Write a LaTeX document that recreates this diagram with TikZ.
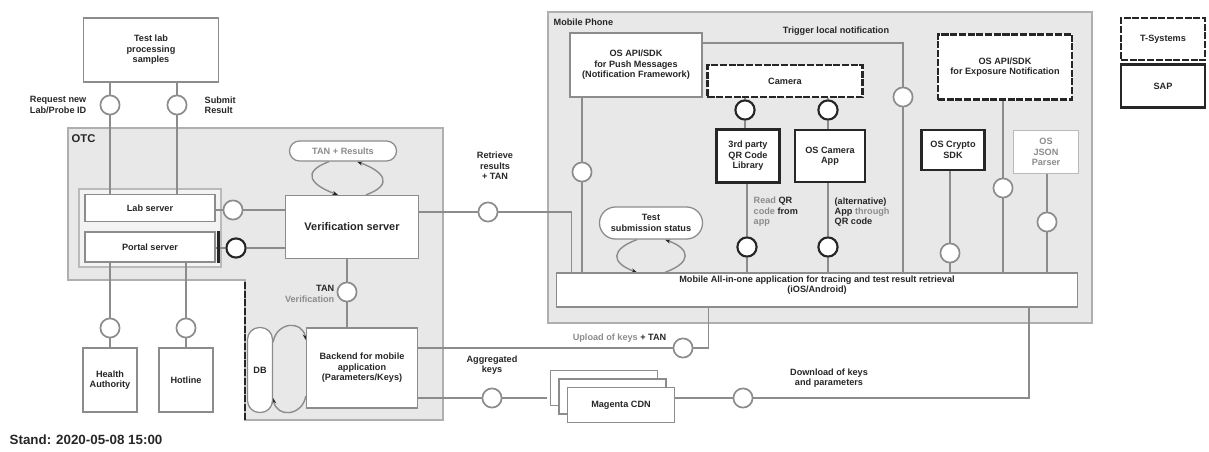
\documentclass[tikz,border=0pt]{standalone}
\usepackage{fontspec}
\setmainfont{Liberation Sans}
\usetikzlibrary{arrows.meta,shadows}
\pgfdeclarelayer{bg}
\pgfdeclarelayer{ln}
\pgfsetlayers{bg,ln,main}
\definecolor{frame}{HTML}{8C8C8C}
\definecolor{panel}{HTML}{E8E8E8}
\definecolor{ink}{HTML}{262626}
\newcommand{\smallbf}{\fontsize{6.5}{7.4}\selectfont\bfseries}

\begin{document}
\begin{tikzpicture}[x=0.025cm,y=-0.025cm,
 every node/.style={font=\smallbf,text=ink},
 box/.style={draw=frame,fill=white,line width=0.9pt,align=center,inner sep=1pt},
 tsys/.style={box,draw=ink,line width=1.5pt,dash pattern=on 5pt off 1.2pt},
 sap/.style={box,draw=ink,line width=1.5pt},
 iface/.style={circle,draw=frame,fill=white,line width=1.2pt,minimum size=0.48cm,inner sep=0pt},
 sapif/.style={iface,draw=ink,line width=1.5pt},
 conn/.style={draw=frame,line width=0.9pt},
 loopln/.style={draw=frame,line width=1pt,-{Stealth[length=4pt,width=3pt,color=ink]}},
 lbl/.style={align=center,inner sep=1pt}]
 \useasboundingbox (0,0) rectangle (1209,452);
 \begin{pgfonlayer}{bg}
  \filldraw[fill=panel,draw=frame!70,line width=1.2pt] (68,128) -- (443,128) -- (443,420) -- (245,420) -- (245,280) -- (68,280) -- cycle;
  \filldraw[fill=panel!50,draw=frame!60,line width=0.8pt] (79,189) rectangle (221,267);
  \filldraw[fill=panel,draw=frame!70,line width=1.2pt] (548,12) rectangle (1092,323);
  \draw[ink,line width=1.5pt,dash pattern=on 5pt off 1.2pt] (245,282) -- (245,420);
 \end{pgfonlayer}
 % OTC
 \node[lbl,anchor=west,font=\fontsize{8}{9}\selectfont\bfseries] (otc) at (70,139) {OTC};
 \node[box,minimum width=3.375cm,minimum height=1.6cm] (lab) at (151,50) {Test lab\\processing\\samples};
 \node[box,minimum width=3.25cm,minimum height=0.675cm] (labsrv) at (150,208) {Lab server};
 \node[box,minimum width=3.25cm,minimum height=0.75cm] (portal) at (150,247) {Portal server};
 \node[box,minimum width=3.325cm,minimum height=1.575cm,font=\fontsize{7.8}{9}\selectfont\bfseries] (verif) at (352,227) {Verification server};
 \node[box,minimum width=2.675cm,minimum height=0.5cm,rounded corners=0.25cm] (tanres) at (343,151) {\color{frame}TAN + Results};
 \node[box,minimum width=1.35cm,minimum height=1.6cm] (health) at (110,380) {Health\\Authority};
 \node[box,minimum width=1.35cm,minimum height=1.6cm] (hotline) at (186,380) {Hotline};
 \node[box,minimum width=2.775cm,minimum height=2cm] (backend) at (362,368) {Backend for mobile\\application\\(Parameters/Keys)};
 \node[box,minimum width=0.625cm,minimum height=2.125cm,rounded corners=0.3cm] (db) at (260,370) {DB};
 \node[box,minimum width=2.675cm,minimum height=0.875cm,double copy shadow={shadow xshift=-6pt,shadow yshift=6pt,draw=frame,line width=0.9pt}] (cdn) at (621,405) {Magenta CDN};
 \node[iface] (c1) at (110,105) {};
 \node[iface] (c2) at (177,105) {};
 \node[iface] (c3) at (233,210) {};
 \node[sapif] (c4) at (236,248) {};
 \node[iface] (c5) at (110,328) {};
 \node[iface] (c6) at (186,328) {};
 \node[iface] (c7) at (347,292) {};
 \node[iface] (c8) at (488,212) {};
 \node[iface] (c9) at (683,348) {};
 \node[iface] (c10) at (492,398) {};
 \node[iface] (c11) at (743,398) {};
 \node[lbl,anchor=east,align=right] (reqlbl) at (88,105) {Request new\\Lab/Probe ID};
 \node[lbl,anchor=west,align=left] (sublbl) at (203,105) {Submit\\Result};
 \node[lbl] (retlbl) at (495,166) {Retrieve\\results\\+ TAN};
 \node[lbl,anchor=east,align=right] (tanlbl) at (336,294) {TAN\\{\color{frame}Verification}};
 \node[lbl] (agglbl) at (492,365) {Aggregated\\keys};
 \node[lbl,anchor=east] (uplbl) at (668,338) {{\color{frame}Upload of keys} + TAN};
 \node[lbl] (downlbl) at (829,378) {Download of keys\\and parameters};
 % mobile phone
 \node[lbl,anchor=west] (phone) at (552,22) {Mobile Phone};
 \node[lbl] (trig) at (836,31) {Trigger local notification};
 \node[box,minimum width=13.025cm,minimum height=0.85cm,text depth=0.3cm] (app) at (817,290) {Mobile All-in-one application for tracing and test result retrieval\\(iOS/Android)};
 \node[box,minimum width=3.3cm,minimum height=1.6cm] (push) at (636,65) {OS API/SDK\\for Push Messages\\(Notification Framework)};
 \node[tsys,minimum width=3.875cm,minimum height=0.8cm] (camera) at (785,81) {Camera};
 \node[sap,minimum width=1.575cm,minimum height=1.325cm] (qr) at (748,156) {3rd party\\QR Code\\Library};
 \node[sap,minimum width=1.75cm,minimum height=1.3cm] (camapp) at (830,156) {OS Camera\\App};
 \node[sap,minimum width=1.575cm,minimum height=1cm] (crypto) at (953,150) {OS Crypto\\SDK};
 \node[tsys,minimum width=3.35cm,minimum height=1.625cm] (expo) at (1005,67) {OS API/SDK\\for Exposure Notification};
 \node[box,draw=frame!60,minimum width=1.625cm,minimum height=1.075cm] (json) at (1046,152) {\color{frame}OS\\\color{frame}JSON\\\color{frame}Parser};
 \node[box,minimum width=2.575cm,minimum height=0.8cm,rounded corners=0.4cm] (status) at (651,223) {Test\\submission status};
 \node[iface] (c12) at (582,172) {};
 \node[sapif] (c13) at (745,110) {};
 \node[sapif] (c14) at (828,110) {};
 \node[sapif] (c15) at (747,247) {};
 \node[sapif] (c16) at (828,247) {};
 \node[iface] (c17) at (903,97) {};
 \node[iface] (c18) at (950,253) {};
 \node[iface] (c19) at (1003,188) {};
 \node[iface] (c20) at (1047,222) {};
 \node[lbl,anchor=west,align=left] (qrlbl) at (752,212) {{\color{frame}Read} QR\\{\color{frame}code} from\\{\color{frame}app}};
 \node[lbl,anchor=west,align=left] (camlbl) at (833,212) {(alternative)\\App {\color{frame}through}\\QR code};
 % legend
 \node[tsys,minimum width=2.1cm,minimum height=1.05cm] (tsysleg) at (1163,39) {T-Systems};
 \node[sap,minimum width=2.1cm,minimum height=1.075cm] (sapleg) at (1163,86) {SAP};
 \node[lbl,anchor=west,font=\fontsize{9.5}{10}\selectfont\bfseries] (stand) at (8,440) {Stand: 2020-05-08 15:00};
 \begin{pgfonlayer}{ln}
  \draw[conn] (lab.south -| c1) -- (c1) -- (c1 |- labsrv.north);
  \draw[conn] (lab.south -| c2) -- (c2) -- (c2 |- labsrv.north);
  \draw[conn] (labsrv.east |- c3) -- (c3) -- (c3 -| verif.west);
  \draw[conn] (portal.east |- c4) -- (c4) -- (c4 -| verif.west);
  \draw[conn] (portal.south -| c5) -- (c5) -- (c5 |- health.north);
  \draw[conn] (portal.south -| c6) -- (c6) -- (c6 |- hotline.north);
  \draw[conn] (verif.south -| c7) -- (c7) -- (c7 |- backend.north);
  \draw[conn] (verif.east |- c8) -- (c8) -| ([xshift=0.4cm]app.north west);
  \draw[conn] (backend.east |- c9) -- (c9) -| ([xshift=3.825cm]app.south west);
  \draw[conn] (backend.east |- c10) -- (c10) -- ([xshift=-0.5cm]cdn.west |- c10);
  \draw[conn] (cdn.east |- c11) -- (c11) -| ([xshift=11.825cm]app.south west);
  \draw[conn] (push.south -| c12) -- (c12) -- (c12 |- app.north);
  \draw[conn] ([yshift=0.55cm]push.east) -| (c17) -- (c17 |- app.north);
  \draw[conn] (camera.south -| c13) -- (c13) -- (c13 |- qr.north);
  \draw[conn] (camera.south -| c14) -- (c14) -- (c14 |- camapp.north);
  \draw[conn] (qr.south -| c15) -- (c15) -- (c15 |- app.north);
  \draw[conn] (camapp.south -| c16) -- (c16) -- (c16 |- app.north);
  \draw[conn] (crypto.south -| c18) -- (c18) -- (c18 |- app.north);
  \draw[conn] (expo.south -| c19) -- (c19) -- (c19 |- app.north);
  \draw[conn] (json.south -| c20) -- (c20) -- (c20 |- app.north);
  \draw[ink,line width=1.5pt] ([xshift=2pt]portal.north east) -- ([xshift=2pt]portal.south east);
  \draw[loopln] ([xshift=-0.35cm]tanres.south) to[out=200,in=160,looseness=2.2] ([xshift=-0.35cm]verif.north);
  \draw[loopln] ([xshift=0.35cm]verif.north) to[out=20,in=-20,looseness=2.2] ([xshift=0.35cm]tanres.south);
  \draw[loopln] ([xshift=-0.35cm]status.south) to[out=200,in=160,looseness=2.2] ([xshift=-0.35cm]status.south |- app.north);
  \draw[loopln] ([xshift=0.35cm]status.south |- app.north) to[out=20,in=-20,looseness=2.2] ([xshift=0.35cm]status.south);
  \draw[loopln] ([yshift=0.7cm]db.east) to[out=80,in=100,looseness=1.6] ([yshift=0.7cm]backend.west);
  \draw[loopln] ([yshift=-0.7cm]backend.west) to[out=-100,in=-80,looseness=1.6] ([yshift=-0.7cm]db.east);
 \end{pgfonlayer}
\end{tikzpicture}
\end{document}
